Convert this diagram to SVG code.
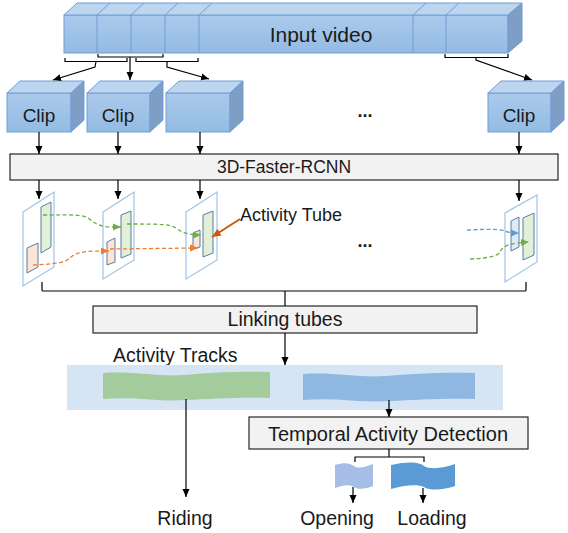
<svg xmlns="http://www.w3.org/2000/svg" width="568" height="533" viewBox="0 0 568 533">
<defs>
<linearGradient id="gFront" x1="0" y1="0" x2="0" y2="1"><stop offset="0" stop-color="#ABCAEB"/><stop offset="1" stop-color="#93BBE3"/></linearGradient>
<marker id="ah" markerUnits="userSpaceOnUse" markerWidth="9" markerHeight="8" refX="8" refY="4" orient="auto"><path d="M0,0.5 L8,4 L0,7.5 Z" fill="#000"/></marker>
<marker id="ahG" markerUnits="userSpaceOnUse" markerWidth="9" markerHeight="8" refX="8" refY="4" orient="auto"><path d="M0,0.5 L8,4 L0,7.5 Z" fill="#70AD47"/></marker>
<marker id="ahO" markerUnits="userSpaceOnUse" markerWidth="9" markerHeight="8" refX="8" refY="4" orient="auto"><path d="M0,0.5 L8,4 L0,7.5 Z" fill="#ED7D31"/></marker>
<marker id="ahB" markerUnits="userSpaceOnUse" markerWidth="9" markerHeight="8" refX="8" refY="4" orient="auto"><path d="M0,0.5 L8,4 L0,7.5 Z" fill="#5B9BD5"/></marker>
<marker id="ahR" markerUnits="userSpaceOnUse" markerWidth="10" markerHeight="9" refX="9" refY="4.5" orient="auto"><path d="M0,0.5 L9,4.5 L0,8.5 Z" fill="#C55A11"/></marker>
</defs>
<style>
.front{fill:url(#gFront);stroke:#6E9FD5;stroke-width:1}
.top{fill:#BDD5EF;stroke:#6E9FD5;stroke-width:1}
.side{fill:#7F9EC6;stroke:#6E9FD5;stroke-width:1}
.div{stroke:#6E9FD5;stroke-width:1;fill:none}
.box{fill:#F2F2F2;stroke:#262626;stroke-width:1.2}
.frame{fill:#FFFFFF;stroke:#9DC3E6;stroke-width:1.2}
.ig{fill:#E2F0D9;stroke:#5A7CA3;stroke-width:1}
.io{fill:#FBE5D6;stroke:#5A7CA3;stroke-width:1}
.ib{fill:#DDEBF7;stroke:#5A7CA3;stroke-width:1}
.c{stroke:#000;stroke-width:1.2;fill:none}
.ca{stroke:#000;stroke-width:1.2;fill:none;marker-end:url(#ah)}
.dg{stroke:#70AD47;stroke-width:1.3;stroke-dasharray:4 2.5;fill:none;marker-end:url(#ahG)}
.do{stroke:#ED7D31;stroke-width:1.3;stroke-dasharray:4 2.5;fill:none;marker-end:url(#ahO)}
.db{stroke:#5B9BD5;stroke-width:1.3;stroke-dasharray:4 2.5;fill:none;marker-end:url(#ahB)}
text{font-family:"Liberation Sans",Arial,sans-serif;fill:#1A1A1A}
.t{text-anchor:middle}
</style>

<g id="input-video">
<rect class="front" x="64" y="15" width="444" height="38"/>
<polygon class="top" points="64,15 77,3 522,3 508,15"/>
<polygon class="side" points="508,15 522,3 522,41 508,53"/>
<path class="div" d="M97,15V53 M131,15V53 M165,15V53 M199,15V53 M413,15V53 M446,15V53 M97,15L110,3 M131,15L144,3 M165,15L178,3 M199,15L212,3 M413,15L426,3 M446,15L459,3"/>
<text class="t" x="321" y="42" font-size="21">Input video</text>
</g>

<g id="clip1">
<rect class="front" x="7" y="93" width="64" height="39"/>
<polygon class="top" points="7,93 20,81 84,81 71,93"/>
<polygon class="side" points="71,93 84,81 84,120 71,132"/>
<text class="t" x="39" y="122" font-size="19">Clip</text>
</g>
<g id="clip2">
<rect class="front" x="87" y="93" width="63" height="39"/>
<polygon class="top" points="87,93 100,81 163,81 150,93"/>
<polygon class="side" points="150,93 163,81 163,120 150,132"/>
<text class="t" x="118" y="122" font-size="19">Clip</text>
</g>
<g id="clip3">
<rect class="front" x="166" y="93" width="64" height="39"/>
<polygon class="top" points="166,93 179,81 243,81 230,93"/>
<polygon class="side" points="230,93 243,81 243,120 230,132"/>
</g>
<g id="clip4">
<rect class="front" x="488" y="93" width="63" height="39"/>
<polygon class="top" points="488,93 501,81 564,81 551,93"/>
<polygon class="side" points="551,93 564,81 564,120 551,132"/>
<text class="t" x="519" y="122" font-size="19">Clip</text>
</g>
<g id="dots1"><text class="t" x="365" y="117" font-size="18" font-weight="bold">...</text></g>

<g id="rcnn">
<rect class="box" x="10" y="154" width="548" height="26"/>
<text class="t" x="284" y="173" font-size="17.5">3D-Faster-RCNN</text>
</g>

<g id="frame1">
<polygon class="frame" points="23,212 54,192 54,267 23,286"/>
<polygon class="ig" points="41,207 51,202 51,247 41,253"/>
<polygon class="io" points="27,248 38,243 38,267 27,273"/>
</g>
<g id="frame2">
<polygon class="frame" points="103,212 134,192 134,260 103,279"/>
<polygon class="ig" points="121,215 131,211 131,254 121,258"/>
<polygon class="io" points="107,242 115,238 115,262 107,265"/>
</g>
<g id="frame3">
<polygon class="frame" points="186,212 217,192 217,260 186,279"/>
<polygon class="io" points="193,233 200,230 200,247 193,249"/>
<polygon class="ig" points="203,215 213,211 213,253 203,257"/>
</g>
<g id="frame4">
<polygon class="frame" points="505,213 537,195 537,262 505,282"/>
<polygon class="ib" points="511,221 519,217 519,247 511,251"/>
<polygon class="ig" points="523,218 534,213 534,255 523,260"/>
</g>
<g id="dots2"><text class="t" x="365" y="247" font-size="18" font-weight="bold">...</text></g>
<g id="activity-tube-label"><text x="240" y="221" font-size="18">Activity Tube</text></g>

<g id="linking">
<rect class="box" x="93" y="306" width="384" height="27"/>
<text class="t" x="285" y="326" font-size="19.5">Linking tubes</text>
</g>

<g id="tracks">
<text x="113" y="362" font-size="19.5">Activity Tracks</text>
<rect x="67" y="365" width="436" height="45" fill="#D6E5F4"/>
<path d="M103,373 C135,371 160,377 183,375 C205,373 240,371 270,372 L270,398 C240,397 210,399 186,400 C160,402 135,396 103,399 Z" fill="#A4CB9B"/>
<path d="M303,374 C335,372 360,378 385,376 C410,374 445,372 475,373 L475,399 C445,398 415,400 390,401 C362,403 335,397 303,400 Z" fill="#8EB8E2"/>
</g>

<g id="tad">
<rect class="box" x="249" y="417" width="279" height="32"/>
<text class="t" x="388" y="441" font-size="20">Temporal Activity Detection</text>
</g>

<g id="flag-opening"><path d="M335,465 C344,462 350,463 354,466 C358,469 366,467 373,464 L373,486 C366,489 358,490 354,487 C350,484 343,485 335,488 Z" fill="#A6BEE5"/></g>
<g id="flag-loading"><path d="M391,465 C408,461 420,462 424,466 C430,470 444,468 455,464 L455,486 C444,490 430,491 424,487 C418,484 404,485 391,489 Z" fill="#5B9BD5"/></g>

<g id="label-riding"><text class="t" x="185" y="525" font-size="19.5">Riding</text></g>
<g id="label-opening"><text class="t" x="337" y="525" font-size="19.5">Opening</text></g>
<g id="label-loading"><text class="t" x="432" y="525" font-size="19.5">Loading</text></g>

<g id="connectors">
<path class="c" d="M65,58V61.5H127V58"/>
<path class="c" d="M98,54V57H163V54"/>
<path class="c" d="M136,58V61.5H198V58"/>
<path class="c" d="M445,54V57.5H508V54"/>
<path class="ca" d="M96,61.5L95,67L53,80"/>
<path class="ca" d="M130,57V80"/>
<path class="ca" d="M167,61.5L167,67L209,79"/>
<path class="ca" d="M476,57.5V60L532,80"/>
<path class="ca" d="M39,132V154"/>
<path class="ca" d="M118,132V154"/>
<path class="ca" d="M200,132V154"/>
<path class="ca" d="M519,132V154"/>
<path class="ca" d="M39,180V199"/>
<path class="ca" d="M118,180V199"/>
<path class="ca" d="M200,180V199"/>
<path class="ca" d="M519,180V201"/>
<path class="dg" d="M43,215 C70,215 80,214 88,218 C95,224 101,227 112,227 L121,227"/>
<path class="dg" d="M127,224 C160,224 170,224 176,228 C182,233 190,235 201,235"/>
<path class="do" d="M33,265 C55,264 65,263 70,258 C76,251 90,251 109,251"/>
<path class="do" d="M110,249 L198,248"/>
<path class="db" d="M467,230 C490,229 500,229 505,231 C510,233 514,233 519,233"/>
<path class="dg" d="M470,259 C490,258 498,256 500,252 C503,245 512,243 529,242"/>
<path d="M240,219 L212,237" stroke="#C55A11" stroke-width="2" fill="none" marker-end="url(#ahR)"/>
<path class="c" d="M42,282V290Q42,291 43,291H525Q526,291 526,290V282"/>
<path class="c" d="M285,291V306"/>
<path class="ca" d="M285,333V365"/>
<path class="ca" d="M186,399V497"/>
<path class="ca" d="M389,400V417"/>
<path class="c" d="M389,449V457 M355,462V457H424V462"/>
<path class="ca" d="M353,487V503"/>
<path class="ca" d="M423,488V503"/>
</g>
</svg>
